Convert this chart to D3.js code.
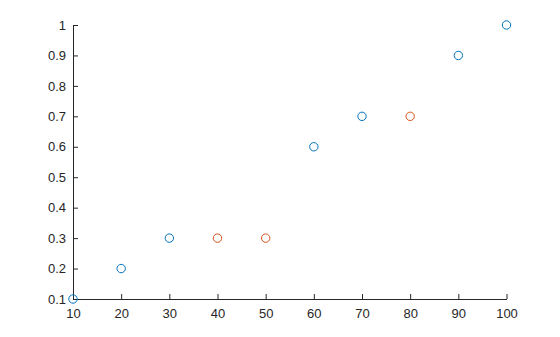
<!DOCTYPE html>
<html>
<head>
<meta charset="utf-8">
<script src="https://cdn.jsdelivr.net/npm/d3@7"></script>
<style>
  body { margin: 0; background: #fff; }
</style>
</head>
<body>
<div id="chart"></div>
<script>
// series values
var blueX = [10, 20, 30, 60, 70, 90, 100]
var blueY = [0.1, 0.2, 0.3, 0.6, 0.7, 0.9, 1]
var orangeX = [40, 50, 80]
var orangeY = [0.3, 0.3, 0.7]
var xTicks = [10, 20, 30, 40, 50, 60, 70, 80, 90, 100]
var yTicks = [0.1, 0.2, 0.3, 0.4, 0.5, 0.6, 0.7, 0.8, 0.9, 1]

var width = 560, height = 337
var margin = { top: 25, right: 53.5, bottom: 38, left: 73 }

var svg = d3.select("#chart").append("svg")
  .attr("width", width)
  .attr("height", height)

var xScale = d3.scaleLinear()
  .domain([10, 100])
  .range([margin.left, width - margin.right])

var yScale = d3.scaleLinear()
  .domain([0.1, 1])
  .range([height - margin.bottom, margin.top])

// X axis, ticks pointing inward
svg.append("g")
  .attr("class", "axis")
  .attr("transform", "translate(0," + (height - margin.bottom) + ")")
  .call(d3.axisBottom(xScale).tickValues(xTicks).tickSizeInner(-5).tickSizeOuter(0).tickPadding(10).tickFormat(d3.format("d")))

// Y axis
svg.append("g")
  .attr("class", "axis")
  .attr("transform", "translate(" + margin.left + ",0)")
  .call(d3.axisLeft(yScale).tickValues(yTicks).tickSizeInner(-5).tickSizeOuter(0).tickPadding(7).tickFormat(function(d) { return String(+d.toFixed(1)) }))

svg.selectAll(".axis")
  .attr("font-size", 13)
  .attr("font-family", "'Liberation Sans', Arial, sans-serif")
svg.selectAll(".domain").attr("stroke", "#262626")
svg.selectAll(".tick line").attr("stroke", "#262626")
svg.selectAll(".tick text").attr("fill", "#262626")

var addPoints = function(xs, ys, color) {
  svg.append("g").selectAll("circle")
    .data(xs.map(function(x, i) { return { x: x, y: ys[i] } }))
    .enter().append("circle")
    .attr("cx", function(d) { return xScale(d.x) })
    .attr("cy", function(d) { return yScale(d.y) })
    .attr("r", 4.2)
    .attr("fill", "none")
    .attr("stroke", color)
    .attr("stroke-width", 1)
}

addPoints(blueX, blueY, "#0072BD")
addPoints(orangeX, orangeY, "#D95319")
</script>
</body>
</html>
